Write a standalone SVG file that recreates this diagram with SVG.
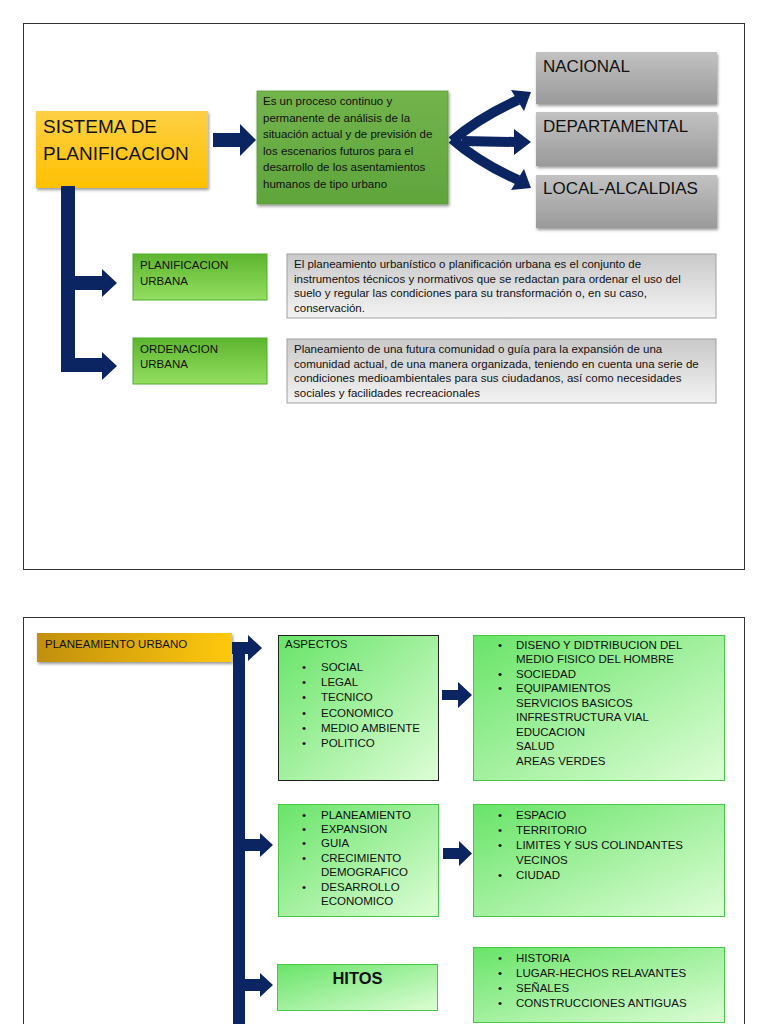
<svg xmlns="http://www.w3.org/2000/svg" width="768" height="1024" viewBox="0 0 768 1024">
<defs>
<linearGradient id="gYellow" x1="0" y1="0" x2="0" y2="1"><stop offset="0" stop-color="#FDD045"/><stop offset="1" stop-color="#FFC000"/></linearGradient>
<linearGradient id="gGold" x1="0" y1="0" x2="1" y2="0"><stop offset="0" stop-color="#C18F0D"/><stop offset="1" stop-color="#FFC910"/></linearGradient>
<linearGradient id="gProc" x1="0" y1="0" x2="0" y2="1"><stop offset="0" stop-color="#72B44C"/><stop offset="1" stop-color="#5FA53C"/></linearGradient>
<linearGradient id="gGray" x1="0" y1="0" x2="0" y2="1"><stop offset="0" stop-color="#C2C2C2"/><stop offset="1" stop-color="#9A9A9A"/></linearGradient>
<linearGradient id="gGreenS" x1="0" y1="0" x2="0" y2="1"><stop offset="0" stop-color="#5DB52F"/><stop offset="1" stop-color="#94DE60"/></linearGradient>
<linearGradient id="gDesc" x1="0" y1="0" x2="0" y2="1"><stop offset="0" stop-color="#C9C9C9"/><stop offset="1" stop-color="#F3F3F3"/></linearGradient>
<linearGradient id="gLight" x1="0" y1="0" x2="1" y2="1"><stop offset="0" stop-color="#68E468"/><stop offset="1" stop-color="#DDFDD6"/></linearGradient>
<filter id="sh" x="-10%" y="-10%" width="125%" height="140%"><feDropShadow dx="1" dy="2" stdDeviation="1.5" flood-color="#000" flood-opacity="0.4"/></filter>
</defs>
<style>
text{font-family:"Liberation Sans",Arial,sans-serif;fill:#111;}
.frame{fill:#fff;stroke:#333;stroke-width:1;}
.t11{font-size:11.5px;}
.t10{font-size:11.5px;}
.big{font-size:19px;}
.lvl{font-size:17px;}
.arrow{fill:#0B2562;}
.arm{stroke:#0B2562;stroke-width:10;fill:none;}
.lg{fill:url(#gLight);stroke:#47C847;stroke-width:1;}
</style>
<rect class="frame" x="23.5" y="23.5" width="721" height="546"/>
<rect class="frame" x="23.5" y="617.5" width="721" height="430"/>

<g id="n-sistema"><rect x="36" y="111" width="172" height="77" fill="url(#gYellow)" filter="url(#sh)"/>
<text class="big" x="43" y="133">SISTEMA DE</text><text class="big" x="43" y="160">PLANIFICACION</text></g>

<g id="n-proceso"><rect x="257" y="91" width="191" height="113" fill="url(#gProc)" stroke="#5A9A38" stroke-width="0.8" filter="url(#sh)"/>
<text class="t10" x="263" y="105">Es un proceso continuo y</text>
<text class="t10" x="263" y="121.5">permanente de análisis de la</text>
<text class="t10" x="263" y="138">situación actual y de previsión de</text>
<text class="t10" x="263" y="154.5">los escenarios futuros para el</text>
<text class="t10" x="263" y="171">desarrollo de los asentamientos</text>
<text class="t10" x="263" y="187.5">humanos de tipo urbano</text></g>

<g id="n-nacional"><rect x="536" y="52" width="181" height="52" fill="url(#gGray)" filter="url(#sh)"/><text class="lvl" x="543" y="72">NACIONAL</text></g>
<g id="n-departamental"><rect x="536" y="112" width="181" height="54" fill="url(#gGray)" filter="url(#sh)"/><text class="lvl" x="543" y="132">DEPARTAMENTAL</text></g>
<g id="n-local"><rect x="536" y="175" width="181" height="53" fill="url(#gGray)" filter="url(#sh)"/><text class="lvl" x="543" y="194">LOCAL-ALCALDIAS</text></g>

<g id="n-planificacion"><rect x="133" y="254" width="134" height="46" fill="url(#gGreenS)" stroke="#4FAE2F" stroke-width="1"/>
<text class="t10" x="140" y="269">PLANIFICACION</text><text class="t10" x="140" y="285">URBANA</text></g>
<g id="n-ordenacion"><rect x="133" y="338" width="134" height="46" fill="url(#gGreenS)" stroke="#4FAE2F" stroke-width="1"/>
<text class="t10" x="140" y="353">ORDENACION</text><text class="t10" x="140" y="368">URBANA</text></g>

<g id="n-desc1"><rect x="287" y="254" width="429" height="64" fill="url(#gDesc)" stroke="#A0A0A0" stroke-width="1"/>
<text class="t10" x="294" y="268">El planeamiento urbanístico o planificación urbana es el conjunto de</text>
<text class="t10" x="294" y="282.5">instrumentos técnicos y normativos que se redactan para ordenar el uso del</text>
<text class="t10" x="294" y="297">suelo y regular las condiciones para su transformación o, en su caso,</text>
<text class="t10" x="294" y="311.5">conservación.</text></g>
<g id="n-desc2"><rect x="287" y="339" width="429" height="64" fill="url(#gDesc)" stroke="#A0A0A0" stroke-width="1"/>
<text class="t10" x="294" y="353">Planeamiento de una futura comunidad o guía para la expansión de una</text>
<text class="t10" x="294" y="367.5">comunidad actual, de una manera organizada, teniendo en cuenta una serie de</text>
<text class="t10" x="294" y="382">condiciones medioambientales para sus ciudadanos, así como necesidades</text>
<text class="t10" x="294" y="396.5">sociales y facilidades recreacionales</text></g>

<g id="n-planeamiento"><rect x="37" y="633" width="195" height="29" fill="url(#gGold)" filter="url(#sh)"/>
<text class="t11" x="45" y="648">PLANEAMIENTO URBANO</text></g>

<g id="n-aspectos"><rect x="278.5" y="635.5" width="160" height="145" fill="url(#gLight)" stroke="#222" stroke-width="1"/>
<text class="t11" x="285" y="648">ASPECTOS</text>
<g class="t11"><text x="302" y="671">•</text><text x="321" y="671">SOCIAL</text>
<text x="302" y="686">•</text><text x="321" y="686">LEGAL</text>
<text x="302" y="701">•</text><text x="321" y="701">TECNICO</text>
<text x="302" y="716.5">•</text><text x="321" y="716.5">ECONOMICO</text>
<text x="302" y="732">•</text><text x="321" y="732">MEDIO AMBIENTE</text>
<text x="302" y="747">•</text><text x="321" y="747">POLITICO</text></g></g>

<g id="n-diseno"><rect class="lg" x="473.5" y="635.5" width="251" height="145"/>
<g class="t11"><text x="498" y="648.5">•</text><text x="516" y="648.5">DISENO Y DIDTRIBUCION DEL</text>
<text x="516" y="663">MEDIO FISICO DEL HOMBRE</text>
<text x="498" y="677.5">•</text><text x="516" y="677.5">SOCIEDAD</text>
<text x="498" y="692">•</text><text x="516" y="692">EQUIPAMIENTOS</text>
<text x="516" y="706.5">SERVICIOS BASICOS</text>
<text x="516" y="721">INFRESTRUCTURA VIAL</text>
<text x="516" y="735.5">EDUCACION</text>
<text x="516" y="750">SALUD</text>
<text x="516" y="764.5">AREAS VERDES</text></g></g>

<g id="n-planeamiento-list"><rect class="lg" x="278.5" y="804.5" width="160" height="112"/>
<g class="t11"><text x="302" y="818.5">•</text><text x="321" y="818.5">PLANEAMIENTO</text>
<text x="302" y="833">•</text><text x="321" y="833">EXPANSION</text>
<text x="302" y="847">•</text><text x="321" y="847">GUIA</text>
<text x="302" y="861.5">•</text><text x="321" y="861.5">CRECIMIENTO</text>
<text x="321" y="876">DEMOGRAFICO</text>
<text x="302" y="890.5">•</text><text x="321" y="890.5">DESARROLLO</text>
<text x="321" y="905">ECONOMICO</text></g></g>

<g id="n-espacio"><rect class="lg" x="473.5" y="804.5" width="251" height="112"/>
<g class="t11"><text x="498" y="819">•</text><text x="516" y="819">ESPACIO</text>
<text x="498" y="834">•</text><text x="516" y="834">TERRITORIO</text>
<text x="498" y="849">•</text><text x="516" y="849">LIMITES Y SUS COLINDANTES</text>
<text x="516" y="863.5">VECINOS</text>
<text x="498" y="878.5">•</text><text x="516" y="878.5">CIUDAD</text></g></g>

<g id="n-hitos"><rect class="lg" x="277.5" y="964.5" width="160" height="46"/>
<text x="357.5" y="984" text-anchor="middle" font-size="16.5" font-weight="bold">HITOS</text></g>

<g id="n-historia"><rect class="lg" x="473.5" y="947.5" width="251" height="75"/>
<g class="t11"><text x="498" y="962">•</text><text x="516" y="962">HISTORIA</text>
<text x="498" y="977">•</text><text x="516" y="977">LUGAR-HECHOS RELAVANTES</text>
<text x="498" y="992">•</text><text x="516" y="992">SEÑALES</text>
<text x="498" y="1007">•</text><text x="516" y="1007">CONSTRUCCIONES ANTIGUAS</text></g></g>

<g id="connectors">
<polygon class="arrow" points="213,133 240,133 240,124 256,140 240,156 240,147 213,147"/>
<path class="arm" d="M452,141 Q478,118 518,100"/>
<polygon class="arrow" points="531,92 511,90 524,111"/>
<path class="arm" d="M452,139 Q478,162 518,180"/>
<polygon class="arrow" points="531,188 524,169 511,190"/>
<path class="arm" d="M462,141 L516,142"/>
<polygon class="arrow" points="514,129 531,142 514,155"/>
<rect class="arrow" x="61" y="186" width="14" height="186"/>
<polygon class="arrow" points="75,276 102,276 102,269 117,283 102,297 102,290 75,290"/>
<polygon class="arrow" points="75,358 102,358 102,352 117,366 102,380 102,372 75,372"/>
<polygon class="arrow" points="232,642 248,642 248,635 262,648 248,661 248,654 232,654"/>
<rect class="arrow" x="233" y="642" width="12" height="382"/>
<polygon class="arrow" points="245,839 260,839 260,833 273,845 260,857 260,851 245,851"/>
<polygon class="arrow" points="245,979 260,979 260,973 273,985 260,997 260,991 245,991"/>
<polygon class="arrow" points="442,690 458,690 458,682 472,695 458,708 458,700 442,700"/>
<polygon class="arrow" points="443,848 459,848 459,841 472,853.5 459,866 459,859 443,859"/>
</g>
</svg>
